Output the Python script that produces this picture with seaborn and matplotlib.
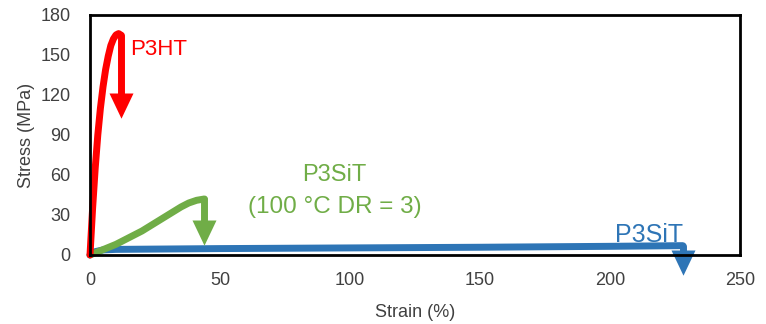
import numpy as np
import pandas as pd
import matplotlib
matplotlib.use("Agg")
import matplotlib.pyplot as plt
import seaborn as sns

# Stress-strain curves
p3ht_strain = [0, 1, 2, 3, 4, 5, 6, 7, 8, 9, 10, 11, 11.8]
p3ht_stress = [0, 35, 65, 90, 110, 126, 139, 149, 157, 162, 165, 166, 165]

p3sit_dr_strain = [0, 5, 10, 15, 20, 25, 30, 35, 38, 41, 44]
p3sit_dr_stress = [0, 4, 8, 13, 18, 24, 30, 36, 39, 41, 42]

p3sit_strain = [0, 2, 5, 10, 50, 100, 150, 200, 228]
p3sit_stress = [0, 2.5, 3.8, 4.2, 4.8, 5.3, 5.8, 6.5, 7]

# break points (arrow end stress)
p3ht_break = 105
p3sit_dr_break = 10
p3sit_break = -13

red = "#FF0000"
green = "#70AD47"
blue = "#2E75B6"

sns.set_style("white")
plt.rcParams['font.family'] = ['Liberation Sans', 'DejaVu Sans']

fig, ax = plt.subplots(figsize=(7.66, 3.24), dpi=100)
fig.subplots_adjust(left=0.1175, right=0.966, top=0.954, bottom=0.213)

df = pd.concat([
    pd.DataFrame({"strain": p3sit_strain, "stress": p3sit_stress, "s": "P3SiT"}),
    pd.DataFrame({"strain": p3sit_dr_strain, "stress": p3sit_dr_stress, "s": "P3SiT DR"}),
    pd.DataFrame({"strain": p3ht_strain, "stress": p3ht_stress, "s": "P3HT"}),
])
sns.lineplot(data=df, x="strain", y="stress", hue="s", sort=False, estimator=None,
             palette={"P3SiT": blue, "P3SiT DR": green, "P3HT": red},
             linewidth=5, legend=False, ax=ax, clip_on=False, solid_capstyle="round")

# break arrows: vertical shaft + triangular head
head = [(-0.5, 0.5), (0.5, 0.5), (0, -0.55)]
head_len = 15  # MPa, about 20 px
for xs, ys, brk, c in [(p3ht_strain, p3ht_stress, p3ht_break, red),
                       (p3sit_dr_strain, p3sit_dr_stress, p3sit_dr_break, green),
                       (p3sit_strain, p3sit_stress, p3sit_break, blue)]:
    ax.plot([xs[-1], xs[-1]], [ys[-1], brk + head_len * 0.9], color=c, lw=5,
            solid_capstyle="round", clip_on=False)
    ax.plot([xs[-1]], [brk + head_len * 0.5], marker=head, markersize=19, color=c,
            markeredgewidth=0, clip_on=False)

ax.text(15.5, 154, "P3HT", color=red, fontsize=16, ha="left", va="center")
ax.text(94, 60, "P3SiT", color=green, fontsize=17, ha="center", va="center")
ax.text(94, 36, "(100 \u00b0C DR = 3)", color=green, fontsize=17.5, ha="center", va="center")
ax.text(215, 15, "P3SiT", color=blue, fontsize=18, ha="center", va="center")

ax.set_xlim(0, 250)
ax.set_ylim(0, 180)
ax.set_xticks([0, 50, 100, 150, 200, 250])
ax.set_yticks(range(0, 181, 30))
ax.tick_params(direction="in", length=4, width=1.2, labelsize=13, colors="black",
               labelcolor="#404040")
ax.tick_params(axis="x", pad=12)
ax.tick_params(axis="y", pad=14)
for sp in ax.spines.values():
    sp.set_linewidth(2)
    sp.set_color("black")
ax.set_xlabel("Strain (%)", fontsize=13, color="#404040", labelpad=11)
ax.set_ylabel("Stress (MPa)", fontsize=13, color="#404040", labelpad=4)

fig.savefig("out.png", dpi=100)
